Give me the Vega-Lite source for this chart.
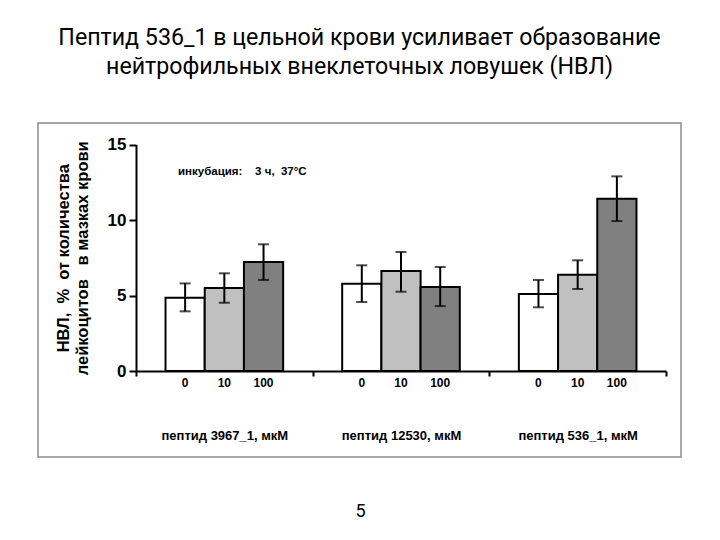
{
  "$schema": "https://vega.github.io/schema/vega-lite/v6.json",
  "width": 643,
  "height": 334,
  "autosize": {"type": "none"},
  "padding": {"left": 38, "top": 123, "right": 39, "bottom": 83},
  "background": "white",
  "title": {
    "text": ["Пептид 536_1 в цельной крови усиливает образование", "нейтрофильных внеклеточных ловушек (НВЛ)"],
    "font": "Roboto",
    "fontSize": 23.2,
    "fontWeight": "normal",
    "color": "black",
    "anchor": "middle",
    "lineHeight": 29,
    "offset": 44
  },
  "config": {
    "view": {"stroke": "#8c8c8c", "strokeWidth": 1.5},
    "font": "Liberation Sans"
  },
  "data": {
    "values": [
      {"group": "пептид 3967_1, мкМ", "conc": "0", "value": 4.85, "lo": 3.95, "hi": 5.8},
      {"group": "пептид 3967_1, мкМ", "conc": "10", "value": 5.5, "lo": 4.52, "hi": 6.47},
      {"group": "пептид 3967_1, мкМ", "conc": "100", "value": 7.22, "lo": 6.03, "hi": 8.39},
      {"group": "пептид 12530, мкМ", "conc": "0", "value": 5.78, "lo": 4.57, "hi": 7.0},
      {"group": "пептид 12530, мкМ", "conc": "10", "value": 6.62, "lo": 5.25, "hi": 7.88},
      {"group": "пептид 12530, мкМ", "conc": "100", "value": 5.56, "lo": 4.3, "hi": 6.89},
      {"group": "пептид 536_1, мкМ", "conc": "0", "value": 5.1, "lo": 4.22, "hi": 6.03},
      {"group": "пептид 536_1, мкМ", "conc": "10", "value": 6.38, "lo": 5.43, "hi": 7.33},
      {"group": "пептид 536_1, мкМ", "conc": "100", "value": 11.41, "lo": 9.93, "hi": 12.89}
    ]
  },
  "encoding": {
    "x": {
      "field": "group",
      "type": "nominal",
      "sort": null,
      "scale": {
        "domain": ["пептид 3967_1, мкМ", "пептид 12530, мкМ", "пептид 536_1, мкМ"],
        "range": [98, 628],
        "paddingInner": 0,
        "paddingOuter": 0
      },
      "axis": {
        "title": "5",
        "offset": -86,
        "tickBand": "extent",
        "domainColor": "black",
        "domainWidth": 2,
        "tickColor": "black",
        "tickWidth": 2,
        "tickSize": 5,
        "labelFont": "Liberation Sans",
        "labelFontSize": 13,
        "labelFontWeight": "bold",
        "labelColor": "black",
        "labelPadding": 53,
        "labelAngle": 0,
        "labelDx": 4,
        "titleFont": "Roboto",
        "titleFontSize": 18,
        "titleFontWeight": "normal",
        "titleColor": "black",
        "titlePadding": 60,
        "titleX": 322,
        "titleAlign": "center"
      }
    },
    "xOffset": {
      "field": "conc",
      "type": "nominal",
      "sort": null,
      "scale": {"domain": ["0", "10", "100"], "paddingInner": 0, "paddingOuter": 0.753}
    }
  },
  "layer": [
    {
      "mark": {"type": "bar", "stroke": "black", "strokeWidth": 2},
      "encoding": {
        "y": {
          "field": "value",
          "type": "quantitative",
          "scale": {"domain": [0, 15], "range": [248, 21.5], "nice": false, "zero": true},
          "axis": {
            "title": ["НВЛ,\u00a0\u00a0%\u00a0\u00a0от количества", "лейкоцитов\u00a0\u00a0\u00a0в мазках крови"],
            "values": [0, 5, 10, 15],
            "offset": -98,
            "grid": false,
            "domainColor": "black",
            "domainWidth": 2,
            "tickColor": "black",
            "tickWidth": 2,
            "tickSize": 7,
            "labelFont": "Liberation Sans",
            "labelFontSize": 17,
            "labelFontWeight": "bold",
            "labelColor": "black",
            "labelPadding": 3,
            "labelFlush": false,
            "titleFont": "Liberation Sans",
            "titleFontSize": 16.5,
            "titleFontWeight": "bold",
            "titleColor": "black",
            "titleLineHeight": 19,
            "titlePadding": 17
          }
        },
        "fill": {
          "field": "conc",
          "type": "nominal",
          "scale": {"domain": ["0", "10", "100"], "range": ["#ffffff", "#c0c0c0", "#808080"]},
          "legend": null
        }
      }
    },
    {
      "mark": {"type": "rule", "strokeWidth": 2, "color": "black"},
      "encoding": {
        "y": {"field": "lo", "type": "quantitative"},
        "y2": {"field": "hi"}
      }
    },
    {
      "mark": {"type": "tick", "orient": "horizontal", "size": 11, "thickness": 2, "color": "black"},
      "encoding": {"y": {"field": "lo", "type": "quantitative"}}
    },
    {
      "mark": {"type": "tick", "orient": "horizontal", "size": 11, "thickness": 2, "color": "black"},
      "encoding": {"y": {"field": "hi", "type": "quantitative"}}
    },
    {
      "mark": {"type": "text", "fontSize": 12, "fontWeight": "bold", "font": "Liberation Sans", "color": "black", "dy": 12, "baseline": "middle", "align": "center"},
      "encoding": {
        "y": {"datum": 0},
        "text": {"field": "conc"}
      }
    },
    {
      "data": {"values": [{"note": "инкубация:\u00a0\u00a0\u00a0\u00a03 ч,\u00a0\u00a037°C"}]},
      "mark": {"type": "text", "fontSize": 11.5, "fontWeight": "bold", "font": "Liberation Sans", "color": "black", "dx": 18, "baseline": "middle", "align": "center"},
      "encoding": {
        "x": {"datum": "пептид 3967_1, мкМ"},
        "xOffset": {"datum": "10"},
        "y": {"datum": 13.16},
        "text": {"field": "note"}
      }
    }
  ]
}
